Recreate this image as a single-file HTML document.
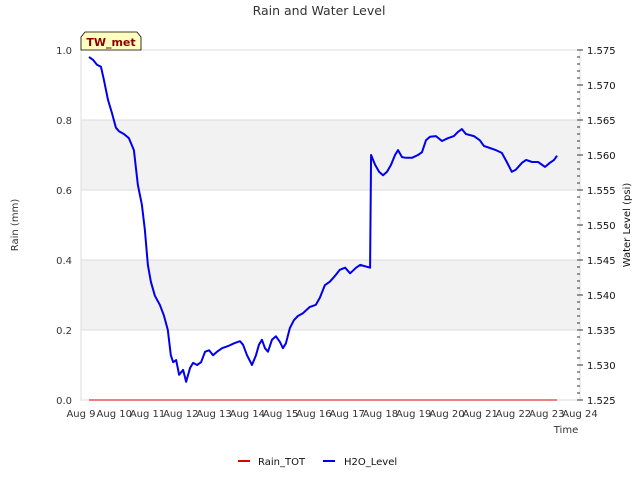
<!DOCTYPE html>
<html><head><meta charset="utf-8"><style>
body{margin:0;background:#fff;font-family:"Liberation Sans","DejaVu Sans",sans-serif}
</style></head><body>
<svg id="c" width="640" height="480" xmlns="http://www.w3.org/2000/svg" font-family="DejaVu Sans, Liberation Sans, sans-serif"></svg>
<script>
const dayLabels=["Aug 9","Aug 10","Aug 11","Aug 12","Aug 13","Aug 14","Aug 15","Aug 16","Aug 17","Aug 18","Aug 19","Aug 20","Aug 21","Aug 22","Aug 23","Aug 24"];
const rainTicks=[0.0,0.2,0.4,0.6,0.8,1.0];
const levelTicks=[1.525,1.530,1.535,1.540,1.545,1.550,1.555,1.560,1.565,1.570,1.575];
const levelDays=[0.24,0.36,0.48,0.60,0.69,0.81,0.93,1.05,1.14,1.29,1.44,1.59,1.71,1.83,1.92,2.01,2.10,2.22,2.37,2.49,2.61,2.70,2.77,2.86,2.95,3.07,3.16,3.28,3.37,3.49,3.61,3.73,3.85,3.97,4.09,4.24,4.42,4.60,4.78,4.87,4.99,5.14,5.26,5.35,5.44,5.53,5.62,5.74,5.86,5.98,6.07,6.16,6.28,6.40,6.52,6.67,6.88,7.06,7.18,7.33,7.48,7.63,7.78,7.94,8.09,8.27,8.39,8.69,8.72,8.84,8.96,9.08,9.20,9.32,9.44,9.53,9.65,9.77,9.95,10.13,10.25,10.37,10.49,10.67,10.85,11.03,11.21,11.33,11.45,11.57,11.81,11.99,12.11,12.29,12.47,12.65,12.80,12.95,13.07,13.26,13.38,13.56,13.74,13.95,14.10,14.22,14.31];
const levelVals=[1.5740,1.5736,1.5729,1.5726,1.5707,1.5679,1.5660,1.5639,1.5634,1.5630,1.5624,1.5607,1.5557,1.5529,1.5493,1.5443,1.5419,1.5399,1.5386,1.5371,1.5350,1.5314,1.5304,1.5307,1.5286,1.5293,1.5276,1.5296,1.5303,1.5300,1.5304,1.5319,1.5321,1.5314,1.5319,1.5324,1.5327,1.5331,1.5334,1.5329,1.5314,1.5300,1.5314,1.5329,1.5336,1.5324,1.5319,1.5336,1.5341,1.5333,1.5324,1.5331,1.5353,1.5364,1.5370,1.5374,1.5383,1.5386,1.5396,1.5414,1.5419,1.5427,1.5436,1.5439,1.5431,1.5439,1.5443,1.5439,1.5600,1.5586,1.5576,1.5571,1.5576,1.5586,1.5600,1.5607,1.5597,1.5596,1.5596,1.5600,1.5604,1.5621,1.5626,1.5627,1.5620,1.5624,1.5627,1.5633,1.5637,1.5630,1.5627,1.5621,1.5613,1.5610,1.5607,1.5603,1.5590,1.5576,1.5579,1.5589,1.5593,1.5590,1.5590,1.5583,1.5589,1.5593,1.5599];
const rainDays=[0.24,14.31];
const rainVals=[0,0];
const L=81,R=580,T=50,B=400;
const xs=d=>L+d*(R-L)/15;
const yl=v=>B-v*(B-T);
const yr=v=>B-(v-1.525)/0.05*(B-T);
const svg=document.getElementById('c');const NS='http://www.w3.org/2000/svg';
function mk(t,a,p){const e=document.createElementNS(NS,t);for(const k in a)e.setAttribute(k,a[k]);(p||svg).appendChild(e);return e;}
function tx(s,a){const e=mk('text',a);e.textContent=s;return e;}
[[0.2,0.4],[0.6,0.8]].forEach((b,i)=>{const r=mk('rect',{x:L,y:yl(b[1]),width:R-L,height:yl(b[0])-yl(b[1]),fill:'#f2f2f2'});
});
rainTicks.forEach(v=>{const g=mk('line',{x1:L,x2:R,y1:yl(v),y2:yl(v),stroke:'#dcdcdc','stroke-width':1});

const t=tx(v.toFixed(1),{x:L-9,y:yl(v)+4,'font-size':10,fill:'#333','text-anchor':'end'});
});
const fr=mk('rect',{x:L,y:T,width:R-L,height:B-T,fill:'none',stroke:'#dcdcdc'});

levelTicks.forEach(v=>{const t=tx(v.toFixed(3),{x:R+7,y:yr(v)+4,'font-size':10,fill:'#111'});

mk('line',{x1:R-3,x2:R+3,y1:yr(v),y2:yr(v),stroke:'#333'});});
for(let v=1.525;v<1.5751;v+=0.001){mk('line',{x1:R-3,x2:R,y1:yr(v),y2:yr(v),stroke:'#333'});}
dayLabels.forEach((s,i)=>{const t=tx(s,{x:xs(i),y:B+17,'font-size':10,fill:'#333','text-anchor':'middle'});
});
const rp=mk('polyline',{points:rainDays.map((d,i)=>xs(d)+','+yl(rainVals[i])).join(' '),fill:'none',stroke:'#d00','stroke-width':1});

const lp=mk('polyline',{points:levelDays.map((d,i)=>xs(d)+','+yr(levelVals[i])).join(' '),fill:'none',stroke:'#0000ee','stroke-width':2,'stroke-linejoin':'round'});

let t;
t=tx('Rain and Water Level',{x:319,y:15,'font-size':12.5,fill:'#333','text-anchor':'middle'});
t=tx('Rain (mm)',{x:18,y:225,'font-size':10,fill:'#333','text-anchor':'middle',transform:'rotate(-90 18 225)'});
t=tx('Water Level (psi)',{x:630,y:225,'font-size':10,fill:'#111','text-anchor':'middle',transform:'rotate(-90 630 225)'});
t=tx('Time',{x:566,y:433,'font-size':10,fill:'#333','text-anchor':'middle'});
const bx=mk('polygon',{points:'81,50 81,37 85,32 137,32 141,37 141,50',fill:'#ffffc0',stroke:'#000','stroke-width':0.8});

t=tx('TW_met',{x:111,y:46,'font-size':11,'font-weight':'bold',fill:'#8b0000','text-anchor':'middle'});
const g1=mk('g',{});
mk('line',{x1:238,x2:250,y1:461,y2:461,stroke:'#d00','stroke-width':2},g1);
const a=mk('text',{x:258,y:465,'font-size':10,fill:'#111'},g1);a.textContent='Rain_TOT';
const g2=mk('g',{});
mk('line',{x1:323,x2:335,y1:461,y2:461,stroke:'#0000ee','stroke-width':2},g2);
const b=mk('text',{x:344,y:465,'font-size':10,fill:'#111'},g2);b.textContent='H2O_Level';
</script>
</body></html>
